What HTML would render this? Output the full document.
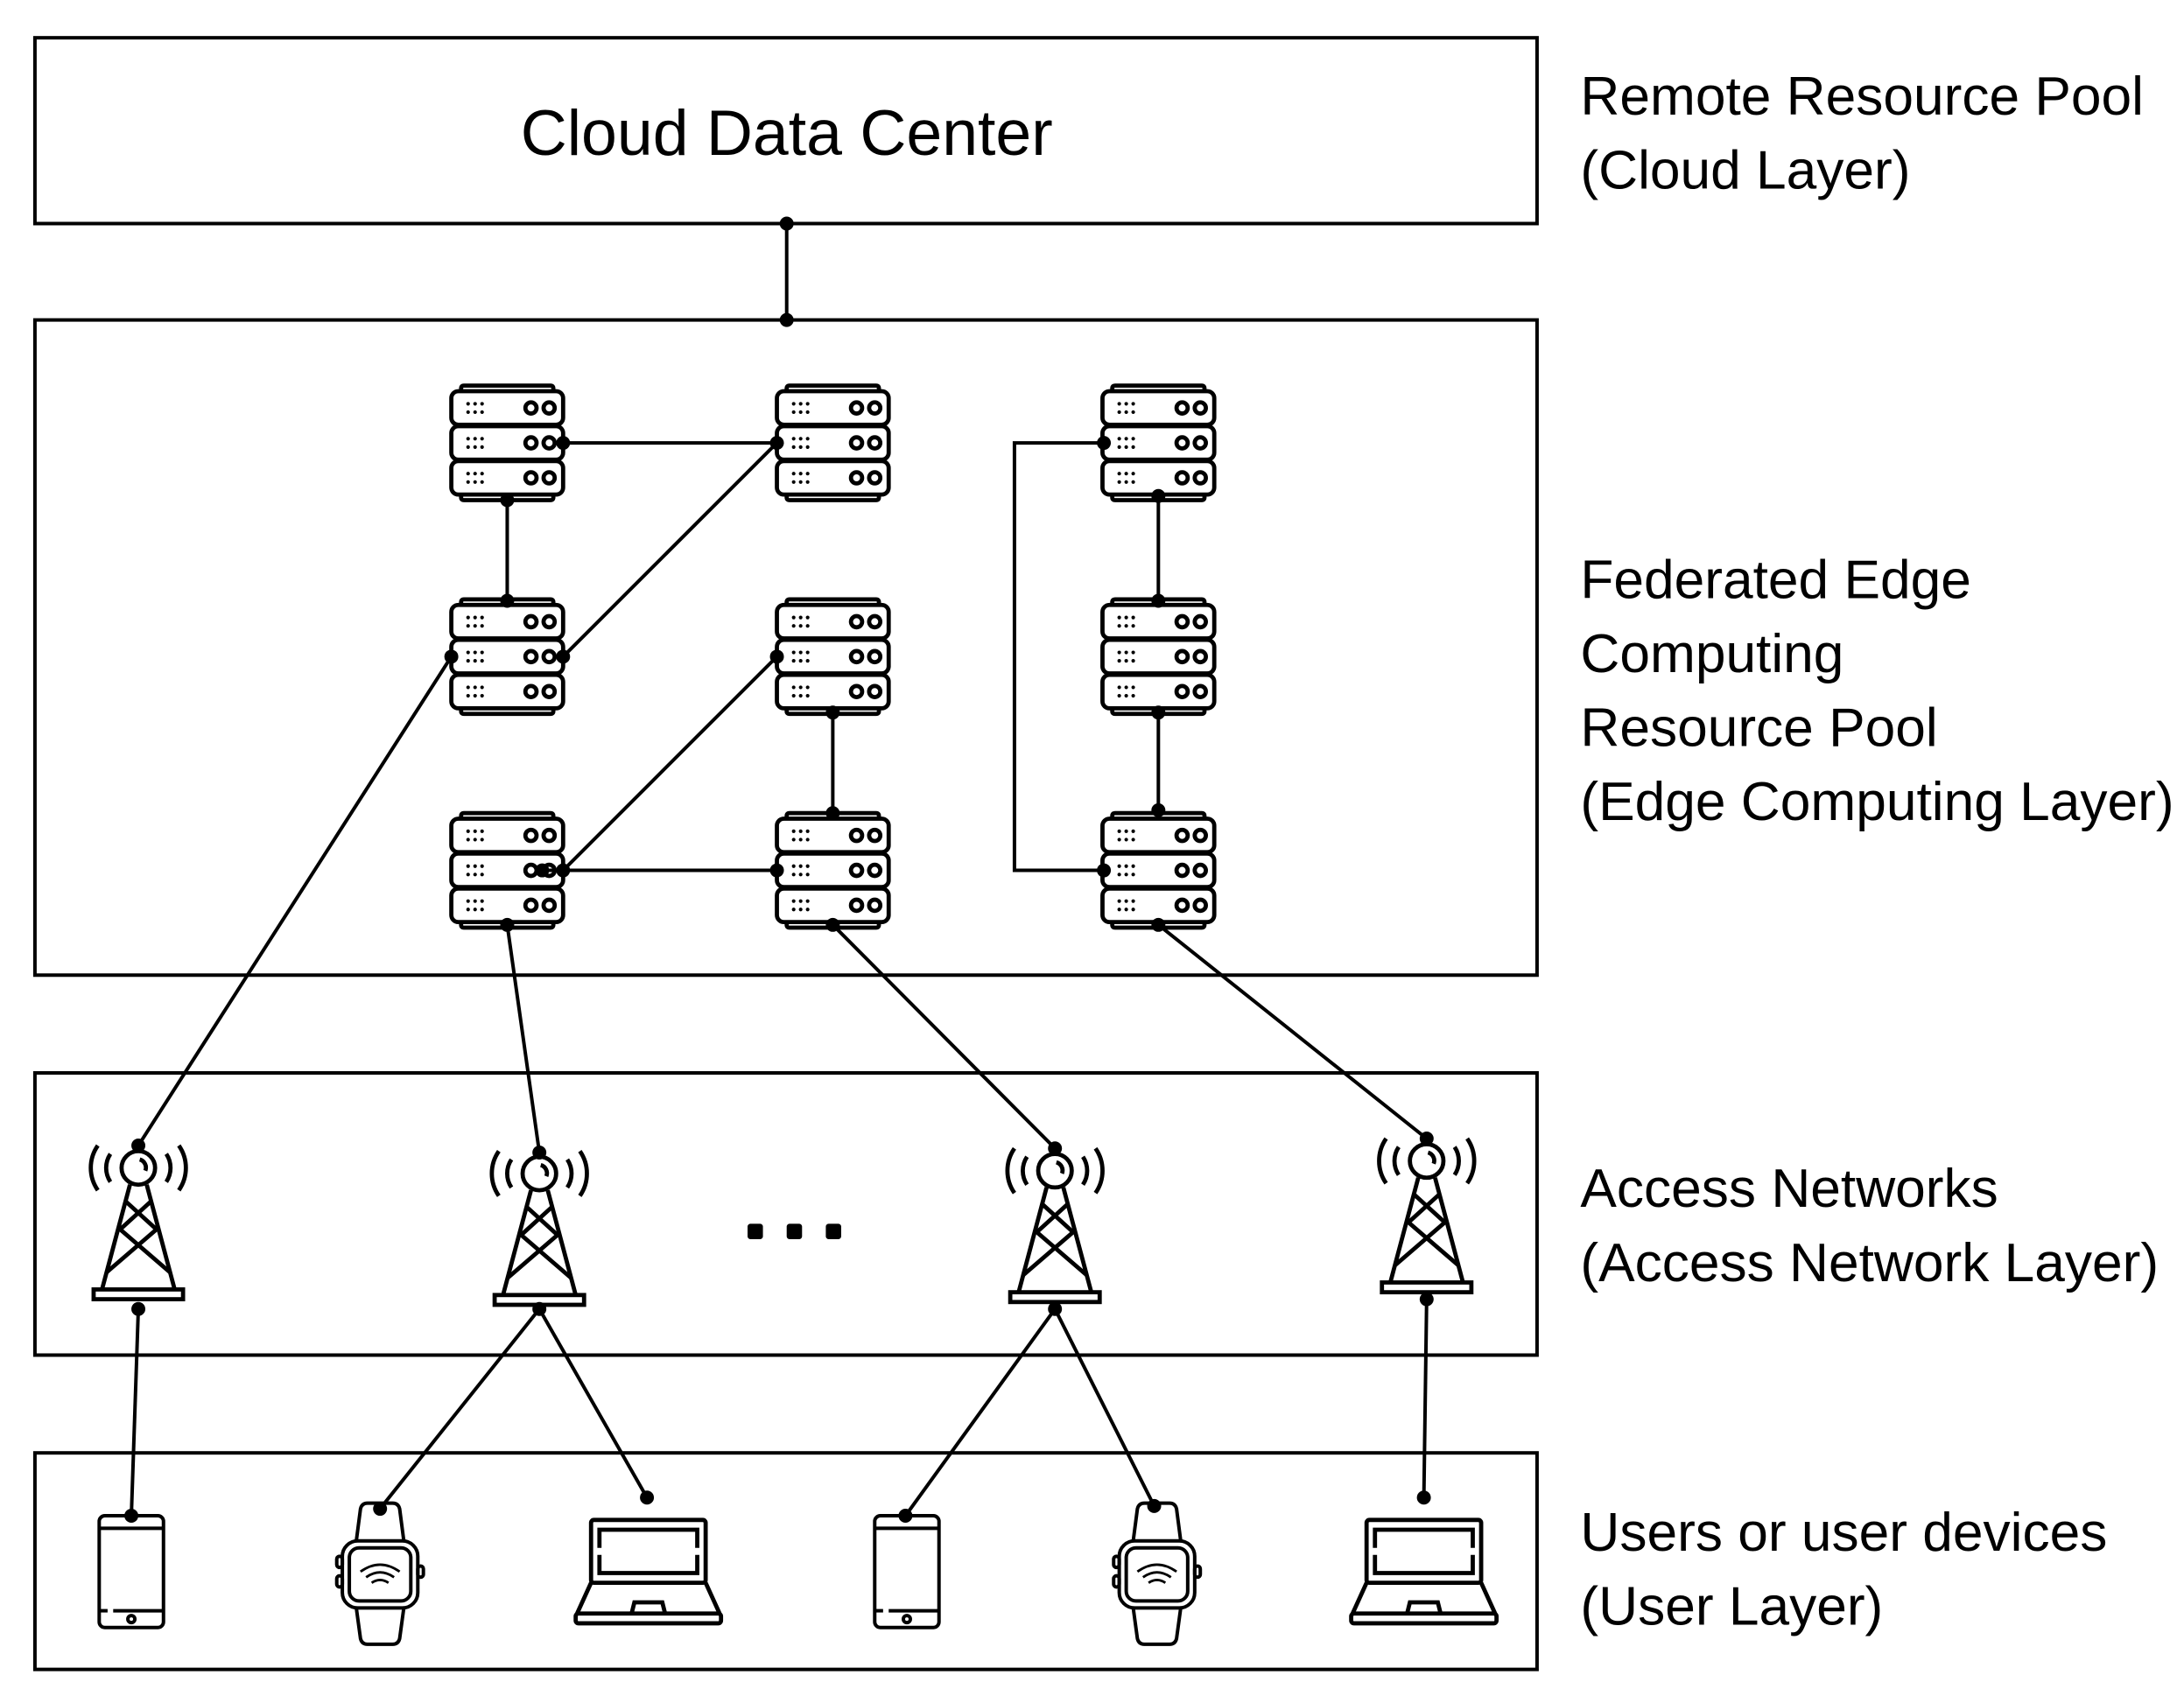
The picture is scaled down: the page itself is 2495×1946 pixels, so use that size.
<!DOCTYPE html>
<html><head><meta charset="utf-8"><style>html,body{margin:0;padding:0;background:#fff}svg{display:block}</style></head>
<body>
<svg width="2495" height="1946" viewBox="0 0 1563 1219" xmlns="http://www.w3.org/2000/svg" font-family="'Liberation Sans', sans-serif">
<defs>
<g id="srv" fill="none" stroke="#000" stroke-width="3">
  <path d="M-33,-37 V-39 Q-33,-41 -31,-41 H31 Q33,-41 33,-39 V-37"/>
  <rect x="-40" y="-37" width="80" height="24" rx="5"/>
  <rect x="-40" y="-12" width="80" height="24" rx="5"/>
  <rect x="-40" y="13" width="80" height="24" rx="5"/>
  <path d="M-33,37 V39 Q-33,41 -31,41 H31 Q33,41 33,39 V37"/>
  <g fill="#000" stroke="none">
    <circle cx="-28" cy="-28" r="1.3"/><circle cx="-23" cy="-28" r="1.3"/><circle cx="-18" cy="-28" r="1.3"/>
    <circle cx="-28" cy="-22" r="1.3"/><circle cx="-23" cy="-22" r="1.3"/><circle cx="-18" cy="-22" r="1.3"/>
    <circle cx="-28" cy="-3" r="1.3"/><circle cx="-23" cy="-3" r="1.3"/><circle cx="-18" cy="-3" r="1.3"/>
    <circle cx="-28" cy="3" r="1.3"/><circle cx="-23" cy="3" r="1.3"/><circle cx="-18" cy="3" r="1.3"/>
    <circle cx="-28" cy="22" r="1.3"/><circle cx="-23" cy="22" r="1.3"/><circle cx="-18" cy="22" r="1.3"/>
    <circle cx="-28" cy="28" r="1.3"/><circle cx="-23" cy="28" r="1.3"/><circle cx="-18" cy="28" r="1.3"/>
  </g>
  <circle cx="17" cy="-25" r="4"/><circle cx="30" cy="-25" r="4"/>
  <circle cx="17" cy="0" r="4"/><circle cx="30" cy="0" r="4"/>
  <circle cx="17" cy="25" r="4"/><circle cx="30" cy="25" r="4"/>
</g>
<g id="tower" fill="none" stroke="#000" stroke-width="3">
  <circle cx="0" cy="0" r="12"/>
  <path d="M1,-6 A6,6 0 0 1 5,2"/>
  <path d="M-20,-10 A18,18 0 0 0 -20,10"/><path d="M20,-10 A18,18 0 0 1 20,10"/>
  <path d="M-29,-16 A28,28 0 0 0 -29,16"/><path d="M29,-16 A28,28 0 0 1 29,16"/>
  <path d="M-6,12 L-26,87 M6,12 L26,87"/>
  <path d="M-9,24 L13,44 M9,24 L-13,44 M-13,44 L23,75 M13,44 L-23,75"/>
  <rect x="-32" y="87" width="64" height="7"/>
</g>
<g id="phone" fill="none" stroke="#000" stroke-width="2.5">
  <rect x="-23" y="0" width="46" height="80" rx="4"/>
  <line x1="-23" y1="9" x2="23" y2="9"/>
  <line x1="-23" y1="68" x2="-17" y2="68"/><line x1="-13" y1="68" x2="23" y2="68"/>
  <circle cx="0" cy="74" r="2.5"/>
</g>
<g id="watch" fill="none" stroke="#000" stroke-width="2.5">
  <path d="M-17,27 L-14,4 Q-13,0 -9,0 H9 Q13,0 14,4 L17,27"/>
  <path d="M-17,75 L-14,97 Q-13,101 -9,101 H9 Q13,101 14,97 L17,75"/>
  <rect x="-27" y="27" width="54" height="48" rx="11"/>
  <rect x="-22" y="32" width="44" height="38" rx="7"/>
  <rect x="-31" y="38" width="4" height="8" rx="2"/><rect x="-31" y="52" width="4" height="8" rx="2"/>
  <rect x="27" y="45" width="4" height="8" rx="2"/>
  <path d="M-14,49 Q0,39 14,49 M-10,53 Q0,46 10,53 M-6,57 Q0,53 6,57" stroke-width="1.8"/>
</g>
<g id="laptop" fill="none" stroke="#000" stroke-width="3">
  <rect x="-41" y="0" width="82" height="45" rx="2"/>
  <path d="M-35,20 V7 H35 V20 M-35,25 V38 H35 V25"/>
  <path d="M-41,45 L-51,67 M41,45 L51,67"/>
  <rect x="-52" y="67" width="104" height="7" rx="2"/>
  <path d="M-12,67 L-10,59 H10 L12,67"/>
</g>
</defs>

<g fill="none" stroke="#000" stroke-width="2.5">
  <rect x="25" y="27" width="1075" height="133"/>
  <rect x="25" y="229" width="1075" height="469"/>
  <rect x="25" y="768" width="1075" height="202"/>
  <rect x="25" y="1040" width="1075" height="155"/>
</g>

<text x="563" y="111" font-size="46" text-anchor="middle">Cloud Data Center</text>
<g font-size="39">
  <text x="1131" y="82">Remote Resource Pool</text>
  <text x="1131" y="135">(Cloud Layer)</text>
  <text x="1131" y="428">Federated Edge</text>
  <text x="1131" y="481">Computing</text>
  <text x="1131" y="534">Resource Pool</text>
  <text x="1131" y="587">(Edge Computing Layer)</text>
  <text x="1131" y="864">Access Networks</text>
  <text x="1131" y="917">(Access Network Layer)</text>
  <text x="1131" y="1110">Users or user devices</text>
  <text x="1131" y="1163">(User Layer)</text>
</g>

<use href="#srv" x="363" y="317"/><use href="#srv" x="596" y="317"/><use href="#srv" x="829" y="317"/>
<use href="#srv" x="363" y="470"/><use href="#srv" x="596" y="470"/><use href="#srv" x="829" y="470"/>
<use href="#srv" x="363" y="623"/><use href="#srv" x="596" y="623"/><use href="#srv" x="829" y="623"/>

<use href="#tower" x="99" y="836"/>
<use href="#tower" x="386" y="840"/>
<use href="#tower" x="755" y="838"/>
<use href="#tower" x="1021" y="831"/>

<use href="#phone" x="94" y="1085"/>
<use href="#watch" x="272" y="1076"/>
<use href="#laptop" x="464" y="1088"/>
<use href="#phone" x="649" y="1085"/>
<use href="#watch" x="828" y="1076"/>
<use href="#laptop" x="1019" y="1088"/>

<g stroke="#000" stroke-width="2.5" fill="none">
  <line x1="563" y1="160" x2="563" y2="229"/>
  <line x1="403" y1="317" x2="556" y2="317"/>
  <line x1="363" y1="358" x2="363" y2="430"/>
  <line x1="403" y1="470" x2="556" y2="317"/>
  <line x1="323" y1="470" x2="99" y2="820"/>
  <line x1="556" y1="470" x2="403" y2="623"/>
  <line x1="596" y1="510" x2="596" y2="582"/>
  <line x1="388" y1="623" x2="556" y2="623"/>
  <line x1="363" y1="662" x2="386" y2="825"/>
  <line x1="596" y1="662" x2="755" y2="822"/>
  <line x1="829" y1="355" x2="829" y2="430"/>
  <line x1="829" y1="510" x2="829" y2="580"/>
  <polyline points="790,317 726,317 726,623 790,623"/>
  <line x1="829" y1="662" x2="1021" y2="815"/>
  <line x1="99" y1="937" x2="94" y2="1085"/>
  <line x1="386" y1="937" x2="272" y2="1080"/>
  <line x1="386" y1="937" x2="463" y2="1072"/>
  <line x1="755" y1="937" x2="648" y2="1085"/>
  <line x1="755" y1="937" x2="826" y2="1078"/>
  <line x1="1021" y1="930" x2="1019" y2="1072"/>
</g>
<g fill="#000">
  <circle cx="563" cy="160" r="5"/><circle cx="563" cy="229" r="5"/>
  <circle cx="403" cy="317" r="5"/><circle cx="556" cy="317" r="5"/>
  <circle cx="363" cy="358" r="5"/><circle cx="363" cy="430" r="5"/>
  <circle cx="403" cy="470" r="5"/><circle cx="323" cy="470" r="5"/>
  <circle cx="556" cy="470" r="5"/><circle cx="403" cy="623" r="5"/><circle cx="388" cy="623" r="5"/>
  <circle cx="596" cy="510" r="5"/><circle cx="596" cy="582" r="5"/>
  <circle cx="556" cy="623" r="5"/>
  <circle cx="363" cy="662" r="5"/><circle cx="596" cy="662" r="5"/>
  <circle cx="829" cy="355" r="5"/><circle cx="829" cy="430" r="5"/>
  <circle cx="829" cy="510" r="5"/><circle cx="829" cy="580" r="5"/>
  <circle cx="790" cy="317" r="5"/><circle cx="790" cy="623" r="5"/>
  <circle cx="829" cy="662" r="5"/>
  <circle cx="99" cy="820" r="5"/><circle cx="386" cy="825" r="5"/><circle cx="755" cy="822" r="5"/><circle cx="1021" cy="815" r="5"/>
  <circle cx="99" cy="937" r="5"/><circle cx="386" cy="937" r="5"/><circle cx="755" cy="937" r="5"/><circle cx="1021" cy="930" r="5"/>
  <circle cx="94" cy="1085" r="5"/><circle cx="272" cy="1080" r="5"/><circle cx="463" cy="1072" r="5"/>
  <circle cx="648" cy="1085" r="5"/><circle cx="826" cy="1078" r="5"/><circle cx="1019" cy="1072" r="5"/>
  <rect x="535" y="876" width="11" height="11" rx="2"/><rect x="563" y="876" width="11" height="11" rx="2"/><rect x="591" y="876" width="11" height="11" rx="2"/>
</g>
</svg>
</body></html>
